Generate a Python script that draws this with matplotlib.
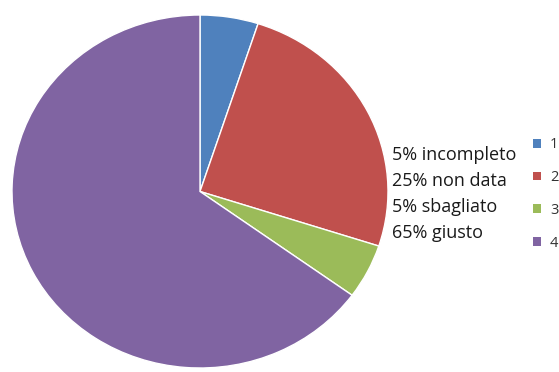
import matplotlib
matplotlib.use("Agg")
import matplotlib.pyplot as plt
from matplotlib.patches import Patch

categories = ["1", "2", "3", "4"]
values = [5, 25, 5, 65]
outcomes = ["incompleto", "non data", "sbagliato", "giusto"]
colors = ["#4F81BD", "#C0504D", "#9BBB59", "#8064A2"]

W, H = 559, 372
fig = plt.figure(figsize=(W / 100, H / 100), dpi=100)
fig.patch.set_facecolor("white")

# Pie area (slightly wider than tall)
ax = fig.add_axes([12 / W, 1 - 368 / H, 376 / W, 353 / H])
wedges, _ = ax.pie(values, colors=colors, startangle=90, counterclock=False,
                   radius=1.0, wedgeprops=dict(edgecolor="white", linewidth=1.0))
ax.set_aspect("auto")
ax.set_xlim(-1.0, 1.0)
ax.set_ylim(-1.0, 1.0)
ax.axis("off")

# Descriptive text block
ys = [155, 181, 207, 233]
for v, name, y in zip(values, outcomes, ys):
    fig.text(392 / W, 1 - y / H, f"{v}% {name}", fontsize=13,
             family=["Open Sans", "DejaVu Sans"], color="#1a1a1a",
             va="center", ha="left")

# Legend with numbered categories
handles = [Patch(facecolor=c, edgecolor="none") for c in colors]
leg = fig.legend(handles, categories, loc="upper left",
                 bbox_to_anchor=(526 / W, 1 - 130 / H), frameon=False,
                 handlelength=0.55, handleheight=0.55,
                 handletextpad=0.6, labelspacing=1.22, borderpad=0,
                 prop={"family": "Open Sans", "size": 10.5})
for t in leg.get_texts():
    t.set_color("#333333")

fig.savefig("out.png", dpi=100)
